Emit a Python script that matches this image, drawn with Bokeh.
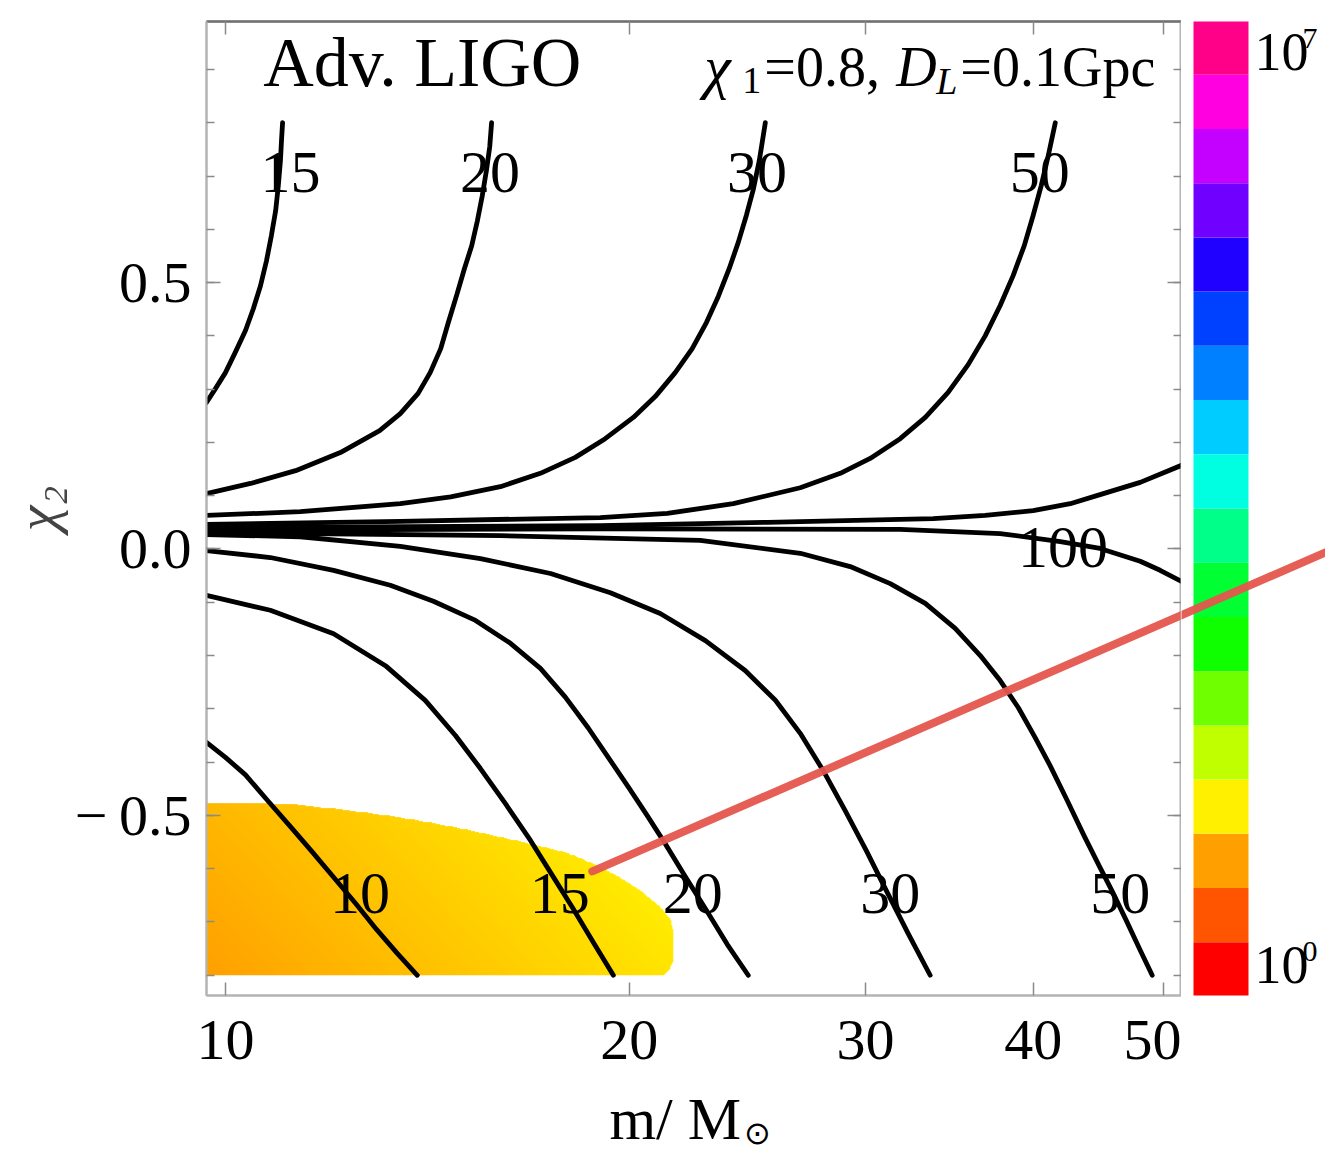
import numpy as np
from bokeh.plotting import figure
from bokeh.layouts import row, column
from bokeh.models import (Range1d, LogAxis, LinearAxis, FixedTicker,
                          SingleIntervalTicker, LogScale)
from bokeh.core.properties import value
from bokeh.embed import file_html
from bokeh.resources import INLINE

FONT = "Liberation Serif"

# ---------------- data ----------------
X_RANGE = (9.68, 51.6)          # m / M_sun (log axis)
Y_RANGE = (-0.838, 0.99)        # chi_2
x_ticks = [10, 20, 30, 40, 50]
x_tick_labels = ["10", "20", "30", "40", "50"]
y_ticks = [-0.5, 0.0, 0.5]
y_tick_labels = ["\u2212\u20090.5", "0.0", "0.5"]

# upper branches of the contours
up15_m = [9.68, 9.83, 10.00, 10.17, 10.35, 10.49, 10.62, 10.73, 10.82, 10.90, 10.95, 10.99, 11.01, 11.03]
up15_chi = [0.275, 0.301, 0.331, 0.369, 0.410, 0.451, 0.494, 0.541, 0.588, 0.635, 0.682, 0.729, 0.767, 0.800]
up20_m = [9.68, 10.44, 11.28, 12.18, 13.03, 13.50, 13.92, 14.21, 14.47, 14.66, 14.87, 15.07, 15.26, 15.41,
          15.54, 15.65, 15.74, 15.79]
up20_chi = [0.104, 0.123, 0.147, 0.181, 0.222, 0.254, 0.292, 0.331, 0.376, 0.425, 0.476, 0.526, 0.569, 0.616,
            0.663, 0.710, 0.755, 0.800]
up30_m = [9.68, 11.37, 13.50, 14.72, 16.03, 17.17, 18.23, 19.19, 20.14, 20.91, 21.64, 22.28, 22.83, 23.30,
          23.74, 24.11, 24.45, 24.75, 25.00, 25.26]
up30_chi = [0.063, 0.070, 0.085, 0.098, 0.117, 0.142, 0.172, 0.207, 0.247, 0.286, 0.331, 0.376, 0.425, 0.474,
            0.526, 0.575, 0.626, 0.676, 0.729, 0.800]
up50_m = [9.68, 13.50, 19.03, 21.35, 23.91, 26.82, 28.73, 30.24, 31.84, 33.24, 34.57, 35.78, 36.84, 37.80,
          38.65, 39.39, 40.00, 40.56, 41.05, 41.55]
up50_chi = [0.046, 0.052, 0.059, 0.067, 0.085, 0.115, 0.142, 0.170, 0.207, 0.247, 0.294, 0.346, 0.400, 0.457,
            0.513, 0.569, 0.626, 0.682, 0.738, 0.800]
up100_m = [9.68, 19.03, 25.35, 33.70, 36.84, 40.00, 42.63, 44.87, 48.07, 51.6]
up100_chi = [0.040, 0.044, 0.050, 0.057, 0.063, 0.072, 0.085, 0.102, 0.125, 0.157]

# lower branches of the contours
lo100_m = [9.68, 19.03, 31.84, 37.80, 41.91, 44.87, 48.07, 49.74, 51.6]
lo100_chi = [0.035, 0.038, 0.037, 0.029, 0.014, 0.001, -0.023, -0.040, -0.061]
lo50_m = [9.68, 16.03, 22.59, 26.82, 29.22, 31.30, 33.24, 34.99, 36.53, 37.80, 39.00, 40.14, 41.19, 42.41,
          43.65, 44.87, 45.89, 46.93, 48.07, 49.07]
lo50_chi = [0.031, 0.025, 0.016, -0.008, -0.033, -0.065, -0.102, -0.149, -0.200, -0.247, -0.298, -0.354,
            -0.407, -0.472, -0.538, -0.598, -0.646, -0.697, -0.753, -0.800]
lo30_m = [9.68, 11.37, 13.50, 15.49, 17.47, 19.36, 21.09, 22.79, 24.40, 25.70, 26.82, 27.90, 28.97, 30.04,
          31.03, 32.28, 33.52]
lo30_chi = [0.027, 0.023, 0.005, -0.018, -0.046, -0.082, -0.121, -0.172, -0.228, -0.284, -0.346, -0.416,
            -0.491, -0.566, -0.637, -0.722, -0.800]
lo20_m = [9.68, 10.80, 12.04, 13.27, 14.29, 15.36, 16.31, 17.17, 17.92, 18.64, 19.29, 19.97, 20.62, 21.27,
          22.01, 22.83, 23.66, 24.53]
lo20_chi = [-0.003, -0.016, -0.040, -0.068, -0.098, -0.134, -0.177, -0.224, -0.278, -0.336, -0.391, -0.447,
            -0.500, -0.553, -0.614, -0.678, -0.742, -0.800]
lo15_m = [9.68, 10.80, 12.04, 13.16, 14.09, 14.84, 15.49, 16.17, 16.88, 17.53, 18.14, 18.80, 19.46]
lo15_chi = [-0.087, -0.115, -0.159, -0.219, -0.284, -0.350, -0.412, -0.478, -0.547, -0.613, -0.673, -0.738,
            -0.800]
lo10_m = [9.68, 10.00, 10.35, 10.75, 11.18, 11.61, 12.04, 12.50, 12.96, 13.43, 13.90]
lo10_chi = [-0.363, -0.391, -0.424, -0.472, -0.521, -0.569, -0.616, -0.665, -0.714, -0.759, -0.800]

contour_label_text = ["15", "20", "30", "50", "100", "10", "15", "20", "30", "50"]
contour_label_m = [11.18, 15.75, 24.90, 40.45, 42.10, 12.60, 17.75, 22.30, 31.30, 46.45]
contour_label_chi = [0.706, 0.706, 0.706, 0.706, 0.002, -0.646, -0.646, -0.646, -0.646, -0.646]

# filled (coloured) region, bottom-left
fill_m = [9.68, 10.62, 11.37, 12.39, 13.50, 14.72, 16.03, 17.02, 17.99, 19.03, 19.70, 20.38, 21.09, 21.46,
          21.57, 21.57, 21.38, 21.20, 9.68]
fill_chi = [-0.477, -0.477, -0.481, -0.491, -0.504, -0.521, -0.541, -0.556, -0.571, -0.597, -0.618, -0.642,
            -0.673, -0.697, -0.725, -0.772, -0.791, -0.800, -0.800]

# colour bar, bottom (10^0) to top (10^7)
cbar_palette = ["#FF0000", "#FF5500", "#FFA000", "#FFF000", "#C0FF00", "#70FF00",
                "#10FF00", "#00FF33", "#00FF88", "#00FFE0", "#00CCFF", "#0080FF",
                "#0040FF", "#2000FF", "#7000FF", "#C400FF", "#FF00E0", "#FF0088"]
cbar_base = ["10", "10"]
cbar_exponent = ["0", "7"]

# hand-drawn red pointer line
red_m = [18.77, 70.0]
red_chi = [-0.605, 0.021]

# ---------------- layout ----------------
FRAME_L, FRAME_T = 206, 21
FRAME_W, FRAME_H = 975, 974
BOTTOM = 89
CB_W = 144
TITLE_H = 1152 - FRAME_T - FRAME_H - BOTTOM
STRIP_TOP = FRAME_T + FRAME_H + BOTTOM        # page y where the title strip begins

decade_px = FRAME_W / np.log10(X_RANGE[1] / X_RANGE[0])
ppu = FRAME_H / (Y_RANGE[1] - Y_RANGE[0])

AXIS_COLOR = "#b4b4b4"
TICK_COLOR = "#8a8a8a"

x_range = Range1d(*X_RANGE)
p = figure(frame_width=FRAME_W, frame_height=FRAME_H, x_axis_type="log",
           x_range=x_range, y_range=Range1d(*Y_RANGE),
           output_backend="svg", toolbar_location=None,
           min_border_left=FRAME_L, min_border_right=0,
           min_border_top=FRAME_T, min_border_bottom=BOTTOM)
p.grid.visible = False
p.outline_line_color = AXIS_COLOR
p.outline_line_width = 2
p.background_fill_color = "white"
p.border_fill_color = "white"


def style_axis(ax, show, major_in, minor_in, standoff=14):
    ax.axis_line_color = AXIS_COLOR
    ax.axis_line_width = 2
    ax.major_tick_line_color = TICK_COLOR
    ax.minor_tick_line_color = TICK_COLOR
    ax.major_tick_line_width = 1.5
    ax.minor_tick_line_width = 1.5
    ax.major_tick_in = major_in
    ax.major_tick_out = 0
    ax.minor_tick_in = minor_in
    ax.minor_tick_out = 0
    ax.major_label_text_font = FONT
    if show:
        ax.major_label_text_color = "black"
        ax.major_label_text_font_size = "58px"
        ax.major_label_standoff = standoff
    else:
        ax.major_label_text_color = None
        ax.major_label_text_font_size = "1px"
        ax.major_label_standoff = 0


xb = p.xaxis[0]
xb.ticker = FixedTicker(ticks=x_ticks, minor_ticks=[])
xb.major_label_overrides = dict(zip(x_ticks, x_tick_labels))
style_axis(xb, True, 13, 0, standoff=25)

yl = p.yaxis[0]
yl.ticker = SingleIntervalTicker(interval=0.5, num_minor_ticks=5)
yl.major_label_overrides = dict(zip(y_ticks, y_tick_labels))
style_axis(yl, True, 14, 8, standoff=15)
yl.axis_label = "\u03c7\u2082"
yl.axis_label_text_font = FONT
yl.axis_label_text_font_size = "58px"
yl.axis_label_text_font_style = "italic"
yl.axis_label_standoff = 3

xt = LogAxis(ticker=FixedTicker(ticks=x_ticks, minor_ticks=[]),
             major_label_overrides={t: "" for t in x_ticks})
style_axis(xt, False, 13, 0)
xt.axis_line_color = "#707070"
xt.axis_line_width = 2.5
p.add_layout(xt, "above")

yr = LinearAxis(ticker=SingleIntervalTicker(interval=0.5, num_minor_ticks=5),
                major_label_overrides={t: "" for t in y_ticks})
style_axis(yr, False, 14, 8)
p.add_layout(yr, "right")


def inside_poly(px, py, vx, vy):
    res = np.zeros(px.shape, dtype=bool)
    n = len(vx)
    j = n - 1
    for i in range(n):
        xi, yi, xj, yj = vx[i], vy[i], vx[j], vy[j]
        if yi != yj:
            cond = ((yi > py) != (yj > py)) & (px < (xj - xi) * (py - yi) / (yj - yi) + xi)
            res ^= cond
        j = i
    return res


# gradient-filled region (orange -> yellow)
lfx = np.log10(np.array(fill_m))
fcy = np.array(fill_chi)
lx0, lx1 = lfx.min(), lfx.max()
cy0, cy1 = fcy.min(), fcy.max()
nx, ny = 560, 220
gx = lx0 + (np.arange(nx) + 0.5) / nx * (lx1 - lx0)
gy = cy0 + (np.arange(ny) + 0.5) / ny * (cy1 - cy0)
GX, GY = np.meshgrid(gx, gy)
mask = inside_poly(GX, GY, lfx, fcy)
u = (GX - lx0) / (lx1 - lx0)
v = (GY - cy0) / (cy1 - cy0)
t = np.clip(0.80 * u + 0.28 * v, 0, 1)
c0 = np.array([255, 160, 0])
c1 = np.array([255, 246, 0])
img = np.zeros((ny, nx), dtype=np.uint32)
view = img.view(dtype=np.uint8).reshape((ny, nx, 4))
for k in range(3):
    view[:, :, k] = (c0[k] + (c1[k] - c0[k]) * t).astype(np.uint8)
view[:, :, 3] = np.where(mask, 255, 0).astype(np.uint8)
p.image_rgba(image=[img], x=10 ** lx0, y=cy0, dw=10 ** lx1 - 10 ** lx0, dh=cy1 - cy0)

curves = [(up15_m, up15_chi), (up20_m, up20_chi), (up30_m, up30_chi),
          (up50_m, up50_chi), (up100_m, up100_chi), (lo100_m, lo100_chi),
          (lo50_m, lo50_chi), (lo30_m, lo30_chi), (lo20_m, lo20_chi),
          (lo15_m, lo15_chi), (lo10_m, lo10_chi)]
for cm, cc in curves:
    p.line(cm, cc, line_color="black", line_width=4.8, line_join="round", line_cap="round")

p.text(x=contour_label_m, y=contour_label_chi, text=contour_label_text,
       text_font=value(FONT), text_font_size="60px", text_align="center",
       text_baseline="middle", text_color="black")

# panel texts (positions: pixel offsets below the frame top)
p.text(x=[10.67], y=[Y_RANGE[1] - 41 / ppu], text=["Adv. LIGO"], text_font=value(FONT),
       text_font_size="70px", text_align="left", text_baseline="middle",
       text_color="black")

info_x = 22.75
info_main = Y_RANGE[1] - 45 / ppu
info_sub = Y_RANGE[1] - 59 / ppu
pieces = [("\u03c7", 0, "60px", "italic", info_main),
          ("1", 38, "38px", "normal", info_sub),
          ("=0.8,", 60, "56px", "normal", info_main),
          ("D", 192, "56px", "italic", info_main),
          ("L", 232, "38px", "italic", info_sub),
          ("=0.1Gpc", 256, "56px", "normal", info_main)]
for txt, off, size, style, yy in pieces:
    p.text(x=[info_x], y=[yy], text=[txt], x_offset=off,
           text_font=value(FONT), text_font_size=size, text_font_style=style,
           text_align="left", text_baseline="middle", text_color="black")

# red pointer line (main part, clipped to the frame)
p.line(red_m, red_chi, line_color="#E5564E", line_width=8, line_cap="round", alpha=0.95)

# ---------------- colour bar figure (continues the same scales) ----------------
cb_x_end = X_RANGE[1] * 10 ** (CB_W / decade_px)
c = figure(frame_width=CB_W, frame_height=FRAME_H, x_axis_type=None, y_axis_type=None,
           x_range=Range1d(X_RANGE[1], cb_x_end), y_range=Range1d(*Y_RANGE),
           output_backend="svg", toolbar_location=None,
           min_border_left=0, min_border_right=0,
           min_border_top=FRAME_T, min_border_bottom=BOTTOM)
c.x_scale = LogScale()
c.grid.visible = False
c.outline_line_color = None
c.background_fill_color = "white"
c.border_fill_color = "white"


def cb_x(px):
    return X_RANGE[1] * 10 ** (px / decade_px)


bar_top = Y_RANGE[1] + 1 / ppu
bar_bot = Y_RANGE[0] - 1 / ppu
edges = np.linspace(bar_bot, bar_top, len(cbar_palette) + 1)
c.quad(left=cb_x(12), right=cb_x(67), bottom=edges[:-1], top=edges[1:],
       fill_color=cbar_palette, line_color=None)
lab_y = [Y_RANGE[0] + 31 / ppu, Y_RANGE[1] - 30 / ppu]
exp_y = [yy + 13 / ppu for yy in lab_y]
c.text(x=[cb_x(73)] * 2, y=lab_y, text=cbar_base,
       text_font=value(FONT), text_font_size="54px", text_align="left",
       text_baseline="middle", text_color="black")
c.text(x=[cb_x(121)] * 2, y=exp_y, text=cbar_exponent,
       text_font=value(FONT), text_font_size="30px", text_align="left",
       text_baseline="middle", text_color="black")
c.line(red_m, red_chi, line_color="#E5564E", line_width=8, line_cap="round", alpha=0.95)

# ---------------- x-axis title strip ----------------
b = figure(frame_width=FRAME_W, frame_height=TITLE_H, x_axis_type=None, y_axis_type=None,
           x_range=x_range, y_range=Range1d(-TITLE_H, 0),
           output_backend="svg", toolbar_location=None,
           min_border_left=FRAME_L, min_border_right=CB_W,
           min_border_top=0, min_border_bottom=0)
b.x_scale = LogScale()
b.grid.visible = False
b.outline_line_color = None
b.background_fill_color = "white"
b.border_fill_color = "white"
b.text(x=[19.33], y=[-(1118 - STRIP_TOP)], text=["m/ M"], text_font=value(FONT),
       text_font_size="60px", text_align="left", text_baseline="middle", text_color="black")
b.text(x=[24.92], y=[-(1132 - STRIP_TOP)], text=["\u2299"], text_font=value(FONT),
       text_font_size="32px", text_align="center", text_baseline="middle", text_color="black")

layout = column(row(p, c, spacing=0), b, spacing=0)
open("out.html", "w").write(file_html(layout, INLINE))
